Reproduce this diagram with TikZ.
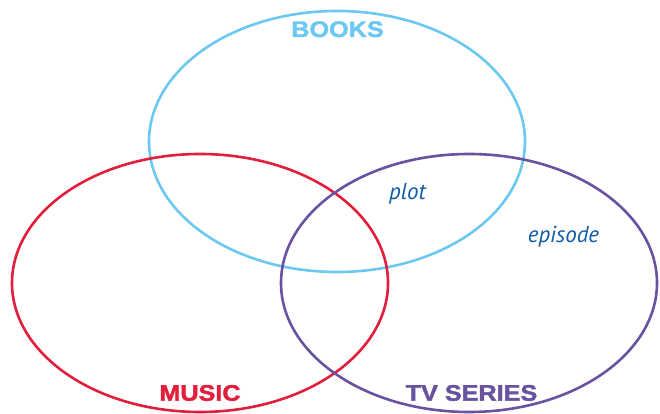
\documentclass[tikz,border=0pt]{standalone}
\usepackage{fontspec}
\newfontfamily\setfont[FakeStretch=1.12, FakeBold=1.8]{Liberation Sans}
\newfontfamily\notefont{PT Sans}
\usetikzlibrary{positioning, shapes.geometric}

\definecolor{booksblue}{RGB}{108,200,240}
\definecolor{musicred}{RGB}{227,30,60}
\definecolor{tvpurple}{RGB}{105,82,160}
\definecolor{noteblue}{RGB}{16,92,168}

\begin{document}
\begin{tikzpicture}[x=1pt, y=1pt,
    set/.style={ellipse, draw, line width=2.6pt, inner sep=0pt, minimum width=376pt},
    setname/.style={anchor=base, font=\setfont\bfseries\fontsize{22.5}{27}\selectfont},
    term/.style={anchor=base, text=noteblue, font=\notefont\itshape\fontsize{23}{27}\selectfont}
  ]
    \useasboundingbox (0,0) rectangle (660,414);

    % The three sets
    \node[set, draw=booksblue, minimum height=261pt] (books) at (337,272.5) {};
    \node[set, draw=musicred, minimum height=258pt] (music) at (200,131) {};
    \node[set, draw=tvpurple, minimum height=258pt] (tv) at (469,131) {};

    % Set names
    \node[setname, text=booksblue] (bookslabel) at (337.5,377) {BOOKS};
    \node[setname, text=musicred] (musiclabel) at (200,13.3) {MUSIC};
    \node[setname, text=tvpurple] (tvlabel) at (471.5,13.3) {TV SERIES};

    % Words inside the sets
    \node[term] (plot) at (407.5,214.7) {plot};
    \node[term] (episode) at (563.5,171.3) {episode};
  \end{tikzpicture}
\end{document}
